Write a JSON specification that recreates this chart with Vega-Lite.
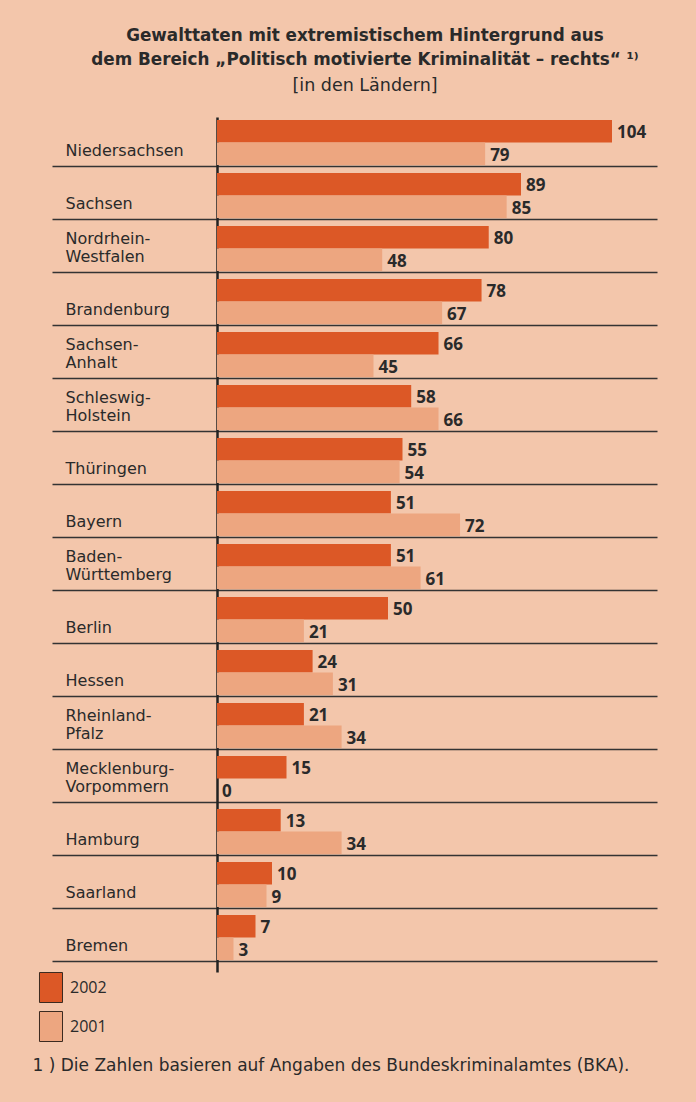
{
  "$schema": "https://vega.github.io/schema/vega-lite/v6.json",
  "autosize": {"type": "none"},
  "padding": {"left": 217, "top": 117, "right": 39, "bottom": 130},
  "width": 440,
  "height": 855,
  "background": "#F3C6AB",
  "title": {
    "text": ["Gewalttaten mit extremistischem Hintergrund aus", "dem Bereich „Politisch motivierte Kriminalität – rechts“ ¹⁾"],
    "subtitle": "[in den Ländern]",
    "anchor": "middle",
    "frame": "group",
    "dx": -72,
    "offset": 23,
    "font": "DejaVu Sans",
    "fontSize": 16.8,
    "fontWeight": "bold",
    "color": "#2a2a2a",
    "lineHeight": 23.5,
    "subtitleFont": "DejaVu Sans",
    "subtitleFontSize": 17.5,
    "subtitleColor": "#2a2a2a",
    "subtitlePadding": 8
  },
  "data": {
    "values": [
      {"state": "Niedersachsen", "year": "2002", "value": 104},
      {"state": "Niedersachsen", "year": "2001", "value": 79},
      {"state": "Sachsen", "year": "2002", "value": 89},
      {"state": "Sachsen", "year": "2001", "value": 85},
      {"state": "Nordrhein-Westfalen", "year": "2002", "value": 80},
      {"state": "Nordrhein-Westfalen", "year": "2001", "value": 48},
      {"state": "Brandenburg", "year": "2002", "value": 78},
      {"state": "Brandenburg", "year": "2001", "value": 67},
      {"state": "Sachsen-Anhalt", "year": "2002", "value": 66},
      {"state": "Sachsen-Anhalt", "year": "2001", "value": 45},
      {"state": "Schleswig-Holstein", "year": "2002", "value": 58},
      {"state": "Schleswig-Holstein", "year": "2001", "value": 66},
      {"state": "Thüringen", "year": "2002", "value": 55},
      {"state": "Thüringen", "year": "2001", "value": 54},
      {"state": "Bayern", "year": "2002", "value": 51},
      {"state": "Bayern", "year": "2001", "value": 72},
      {"state": "Baden-Württemberg", "year": "2002", "value": 51},
      {"state": "Baden-Württemberg", "year": "2001", "value": 61},
      {"state": "Berlin", "year": "2002", "value": 50},
      {"state": "Berlin", "year": "2001", "value": 21},
      {"state": "Hessen", "year": "2002", "value": 24},
      {"state": "Hessen", "year": "2001", "value": 31},
      {"state": "Rheinland-Pfalz", "year": "2002", "value": 21},
      {"state": "Rheinland-Pfalz", "year": "2001", "value": 34},
      {"state": "Mecklenburg-Vorpommern", "year": "2002", "value": 15},
      {"state": "Mecklenburg-Vorpommern", "year": "2001", "value": 0},
      {"state": "Hamburg", "year": "2002", "value": 13},
      {"state": "Hamburg", "year": "2001", "value": 34},
      {"state": "Saarland", "year": "2002", "value": 10},
      {"state": "Saarland", "year": "2001", "value": 9},
      {"state": "Bremen", "year": "2002", "value": 7},
      {"state": "Bremen", "year": "2001", "value": 3}
    ]
  },
  "encoding": {
    "y": {
      "field": "state",
      "type": "nominal",
      "sort": null,
      "scale": {"paddingInner": 0, "paddingOuter": 0.066, "align": 0},
      "axis": {
        "title": null,
        "orient": "left",
        "bandPosition": 0.925,
        "domain": true,
        "domainColor": "#222222",
        "domainWidth": 2.5,
        "ticks": true,
        "tickSize": 165,
        "tickColor": "#333333",
        "tickWidth": 1.5,
        "grid": true,
        "gridColor": "#333333",
        "gridWidth": 1.5,
        "gridOpacity": 1,
        "labelAlign": "left",
        "labelPadding": -13,
        "labelBaseline": "bottom",
        "labelOffset": -2.6,
        "labelFont": "DejaVu Sans",
        "labelFontSize": 16,
        "labelColor": "#2a2a2a",
        "labelLineHeight": 18,
        "labelLimit": 0,
        "labelOverlap": false,
        "labelExpr": "indexof(datum.label, '-') >= 0 ? split(replace(datum.label, '-', '-|'), '|') : ['', datum.label]"
      }
    },
    "yOffset": {
      "field": "year",
      "type": "nominal",
      "scale": {"domain": ["2002", "2001"], "paddingInner": 0, "paddingOuter": 0.178, "align": 0.375}
    },
    "x": {
      "field": "value",
      "type": "quantitative",
      "scale": {"type": "linear", "domain": [0, 10, 60, 89, 104, 111.4], "range": [0, 55, 200, 304, 395, 440], "nice": false, "zero": false},
      "axis": {
        "labels": false,
        "ticks": false,
        "domain": false,
        "grid": false,
        "title": "1 ) Die Zahlen basieren auf Angaben des Bundeskriminalamtes (BKA).",
        "titleX": -185,
        "titleY": 93,
        "titleAlign": "left",
        "titleAnchor": "start",
        "titleBaseline": "middle",
        "titleFont": "DejaVu Sans",
        "titleFontSize": 17,
        "titleFontWeight": "normal",
        "titleColor": "#2a2a2a"
      }
    }
  },
  "layer": [
    {
      "mark": {"type": "bar"},
      "encoding": {
        "color": {
          "field": "year",
          "type": "nominal",
          "scale": {"domain": ["2002", "2001"], "range": ["#DC5826", "#EDA680"]},
          "legend": {
            "title": null,
            "orient": "none",
            "legendX": -181.5,
            "legendY": 855,
            "padding": 0,
            "symbolType": "M-0.767,-1H0.767V1H-0.767Z",
            "symbolSize": 900,
            "symbolStrokeColor": "#3b2a20",
            "symbolStrokeWidth": 1,
            "symbolOpacity": 1,
            "labelFont": "Open Sans",
            "labelFontSize": 16,
            "labelColor": "#2a2a2a",
            "labelOffset": 3.5,
            "rowPadding": 4
          }
        }
      }
    },
    {
      "mark": {"type": "text", "align": "left", "baseline": "middle", "dx": 5, "dy": 2, "font": "Open Sans", "fontSize": 17, "fontWeight": "bold", "color": "#2a2a2a"},
      "encoding": {"text": {"field": "value", "type": "quantitative"}}
    }
  ],
  "config": {"view": {"stroke": null}}
}
